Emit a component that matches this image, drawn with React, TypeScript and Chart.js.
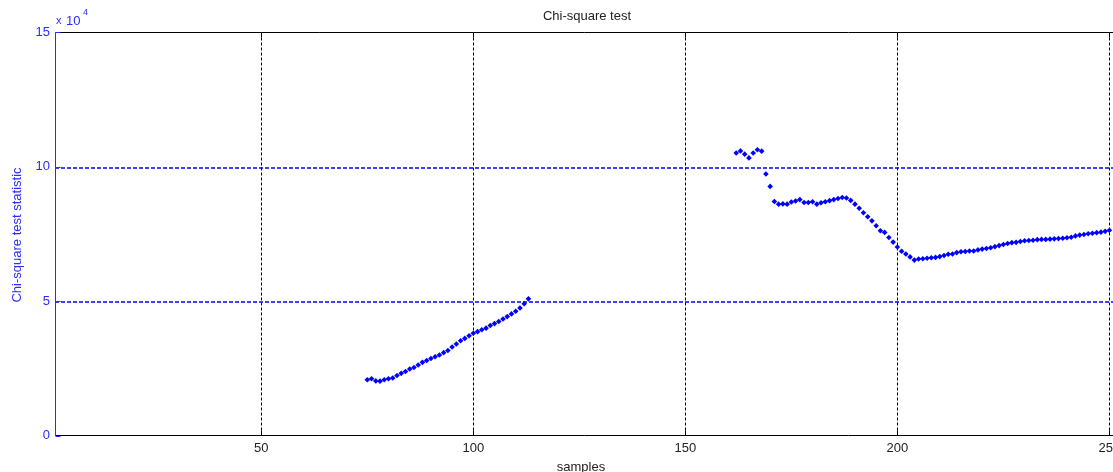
import React, { useEffect, useRef } from "react";
import { Chart, registerables } from "chart.js";

Chart.register(...registerables);

const TITLE = "Chi-square test";
const X_LABEL = "samples";
const Y_LABEL = "Chi-square test statistic";
const X_TICKS = [50, 100, 150, 200, 250];
const Y_TICKS = [0, 5, 10, 15];
const Y_EXPONENT = "4";
const X_RANGE = [1.35, 250.85];
const Y_RANGE = [0, 15];

// statistic values in units of 10^4
const SEG1_START = 75;
const SEG1_VALUES = [
  2.07, 2.11, 2.03, 2.02, 2.07, 2.11, 2.14, 2.23, 2.31, 2.38,
  2.47, 2.53, 2.62, 2.72, 2.79, 2.86, 2.93, 2.99, 3.08, 3.16,
  3.29, 3.40, 3.52, 3.61, 3.71, 3.80, 3.86, 3.93, 3.99, 4.09,
  4.16, 4.24, 4.33, 4.42, 4.52, 4.62, 4.74, 4.90, 5.08,
];
const SEG2_START = 162;
const SEG2_VALUES = [
  10.50, 10.58, 10.46, 10.32, 10.50, 10.62, 10.57, 9.72, 9.26, 8.70,
  8.60, 8.61, 8.60, 8.68, 8.72, 8.77, 8.66, 8.66, 8.69, 8.60,
  8.65, 8.69, 8.73, 8.77, 8.81, 8.85, 8.83, 8.74, 8.60, 8.45,
  8.28, 8.13, 7.98, 7.80, 7.61, 7.55, 7.36, 7.19, 7.01, 6.85,
  6.75, 6.64, 6.52, 6.56, 6.57, 6.59, 6.61, 6.62, 6.65, 6.69,
  6.74, 6.75, 6.80, 6.83, 6.84, 6.86, 6.86, 6.90, 6.93, 6.95,
  6.98, 7.02, 7.06, 7.10, 7.14, 7.17, 7.18, 7.21, 7.24, 7.25,
  7.26, 7.28, 7.29, 7.29, 7.30, 7.31, 7.32, 7.33, 7.35, 7.37,
  7.42, 7.45, 7.47, 7.50, 7.52, 7.54, 7.56, 7.59, 7.63,
];

const FONT = '13px "Liberation Sans", Arial, sans-serif';
const BLUE = "#2b2bff";
const GRID_BLUE = "#0000ff";
const TEXT = "#222222";

const matlabAxes = {
  id: "matlabAxes",
  beforeDatasetsDraw(chart: any) {
    const { ctx, chartArea: ca, scales } = chart;
    const xs = scales.x;
    const ys = scales.y;
    ctx.save();
    ctx.lineWidth = 1;
    ctx.strokeStyle = "#000";
    ctx.setLineDash([3, 2]);
    X_TICKS.forEach((t) => {
      const px = Math.round(xs.getPixelForValue(t)) + 0.5;
      ctx.beginPath();
      ctx.moveTo(px, ca.bottom);
      ctx.lineTo(px, ca.top);
      ctx.stroke();
    });
    ctx.strokeStyle = GRID_BLUE;
    ctx.lineWidth = 1.3;
    ctx.setLineDash([4, 2]);
    Y_TICKS.forEach((t) => {
      if (t <= Y_RANGE[0] || t >= Y_RANGE[1]) return;
      const py = Math.round(ys.getPixelForValue(t)) + 1;
      ctx.beginPath();
      ctx.moveTo(ca.left, py);
      ctx.lineTo(ca.right, py);
      ctx.stroke();
    });
    ctx.restore();
  },
  afterDatasetsDraw(chart: any) {
    const { ctx, chartArea: ca, scales } = chart;
    const xs = scales.x;
    const ys = scales.y;
    const top = 32.5;
    const bottom = 435.5;
    const left = 55.5;
    ctx.save();
    ctx.setLineDash([]);
    ctx.lineWidth = 1;
    ctx.strokeStyle = "#000";
    ctx.beginPath();
    ctx.moveTo(left, top);
    ctx.lineTo(ca.right, top);
    ctx.moveTo(left, bottom);
    ctx.lineTo(ca.right, bottom);
    ctx.stroke();
    X_TICKS.forEach((t) => {
      const px = Math.round(xs.getPixelForValue(t)) + 0.5;
      ctx.beginPath();
      ctx.moveTo(px, bottom);
      ctx.lineTo(px, bottom - 5);
      ctx.moveTo(px, top);
      ctx.lineTo(px, top + 5);
      ctx.stroke();
    });
    ctx.strokeStyle = BLUE;
    ctx.beginPath();
    ctx.moveTo(left, top);
    ctx.lineTo(left, bottom + 0.5);
    ctx.stroke();
    Y_TICKS.forEach((t) => {
      const py = Math.round(ys.getPixelForValue(t)) + 0.5;
      ctx.beginPath();
      ctx.moveTo(left, py);
      ctx.lineTo(left + 5, py);
      ctx.stroke();
    });

    ctx.font = FONT;
    ctx.fillStyle = TEXT;
    ctx.textAlign = "center";
    ctx.textBaseline = "middle";
    X_TICKS.forEach((t) => {
      ctx.fillText(String(t), xs.getPixelForValue(t), 448);
    });
    ctx.fillText(TITLE, 587, 16);
    ctx.fillText(X_LABEL, 581, 467);

    ctx.fillStyle = BLUE;
    ctx.textAlign = "right";
    Y_TICKS.forEach((t) => {
      ctx.fillText(String(t), 50, ys.getPixelForValue(t));
    });
    ctx.textAlign = "left";
    ctx.font = '11px "Liberation Sans", Arial, sans-serif';
    ctx.fillText("x", 56, 21);
    ctx.font = FONT;
    ctx.fillText("10", 66, 21);
    ctx.font = '9px "Liberation Sans", Arial, sans-serif';
    ctx.fillText(Y_EXPONENT, 83, 13);

    ctx.font = FONT;
    ctx.save();
    ctx.translate(17, 235);
    ctx.rotate(-Math.PI / 2);
    ctx.textAlign = "center";
    ctx.fillText(Y_LABEL, 0, 0);
    ctx.restore();

    ctx.restore();
  },
};

export default function App() {
  const canvasRef = useRef<HTMLCanvasElement | null>(null);

  useEffect(() => {
    document.body.style.margin = "0";
    const canvas = canvasRef.current;
    if (!canvas) return;
    const toPoints = (start: number, vals: number[]) =>
      vals.map((v, i) => ({ x: start + i, y: v }));
    const pointStyle = {
      showLine: false,
      pointStyle: "rectRot" as const,
      pointRadius: 2.8,
      pointBorderWidth: 0,
      pointBackgroundColor: "#0000ff",
      backgroundColor: "#0000ff",
      borderColor: "#0000ff",
    };
    const chart = new Chart(canvas, {
      type: "scatter",
      data: {
        datasets: [
          { label: "seg1", data: toPoints(SEG1_START, SEG1_VALUES), ...pointStyle },
          { label: "seg2", data: toPoints(SEG2_START, SEG2_VALUES), ...pointStyle },
        ],
      },
      options: {
        animation: false,
        responsive: false,
        devicePixelRatio: 1,
        layout: { autoPadding: false, padding: { left: 55, top: 32, right: 0, bottom: 36.5 } },
        plugins: {
          legend: { display: false },
          tooltip: { enabled: false },
          title: { display: false },
        },
        scales: {
          x: { type: "linear", min: X_RANGE[0], max: X_RANGE[1], display: false },
          y: { type: "linear", min: Y_RANGE[0], max: Y_RANGE[1], display: false },
        },
      },
      plugins: [matlabAxes],
    });
    return () => chart.destroy();
  }, []);

  return (
    <div style={{ position: "fixed", left: 0, top: 0, width: 1113, height: 472, background: "#fff", overflow: "hidden" }}>
      <canvas ref={canvasRef} width={1113} height={472} style={{ display: "block" }} />
    </div>
  );
}
